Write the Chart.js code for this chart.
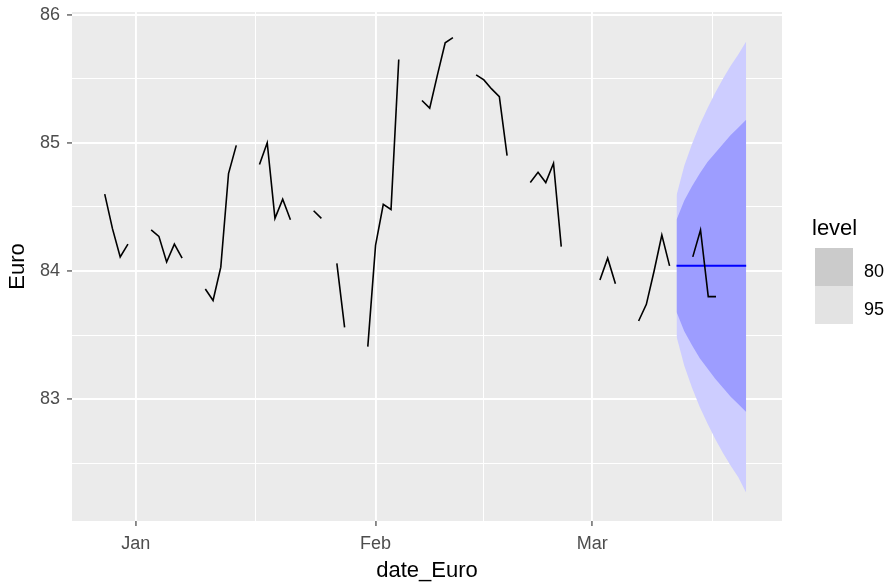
<!DOCTYPE html>
<html>
<head>
<meta charset="utf-8">
<script src="https://cdn.jsdelivr.net/npm/chart.js@4"></script>
<style>
  html, body { margin: 0; padding: 0; background: #ffffff; }
  #wrap { width: 890px; height: 587px; }
</style>
</head>
<body>
<div id="wrap"><canvas id="euro-chart" width="890" height="587"></canvas></div>
<script>
// observed rates (weekdays, some missing)
const euroDates = [
  '2021-12-28', '2021-12-29', '2021-12-30', '2021-12-31',
  '2022-01-03', '2022-01-04', '2022-01-05', '2022-01-06', '2022-01-07',
  '2022-01-10', '2022-01-11', '2022-01-12', '2022-01-13', '2022-01-14',
  '2022-01-17', '2022-01-18', '2022-01-19', '2022-01-20', '2022-01-21',
  '2022-01-24', '2022-01-25', '2022-01-27', '2022-01-28',
  '2022-01-31', '2022-02-01', '2022-02-02', '2022-02-03', '2022-02-04',
  '2022-02-07', '2022-02-08', '2022-02-09', '2022-02-10', '2022-02-11',
  '2022-02-14', '2022-02-15', '2022-02-16', '2022-02-17', '2022-02-18',
  '2022-02-21', '2022-02-22', '2022-02-23', '2022-02-24', '2022-02-25',
  '2022-03-02', '2022-03-03', '2022-03-04',
  '2022-03-07', '2022-03-08', '2022-03-09', '2022-03-10', '2022-03-11',
  '2022-03-14', '2022-03-15', '2022-03-16', '2022-03-17'
];
const euroValues = [
  84.60, 84.33, 84.11, 84.21,
  84.32, 84.27, 84.07, 84.21, 84.10,
  83.86, 83.77, 84.03, 84.76, 84.98,
  84.83, 85.00, 84.41, 84.56, 84.40,
  84.47, 84.41, 84.06, 83.56,
  83.41, 84.20, 84.52, 84.48, 85.65,
  85.33, 85.27, 85.53, 85.78, 85.82,
  85.53, 85.49, 85.42, 85.36, 84.90,
  84.69, 84.77, 84.69, 84.84, 84.19,
  83.93, 84.10, 83.90,
  83.61, 83.74, 84.00, 84.28, 84.04,
  84.11, 84.32, 83.80, 83.80
];

// forecast
const fcDates = [
  '2022-03-12', '2022-03-13', '2022-03-14', '2022-03-15', '2022-03-16',
  '2022-03-17', '2022-03-18', '2022-03-19', '2022-03-20', '2022-03-21'
];
const fcMean = [84.04, 84.04, 84.04, 84.04, 84.04, 84.04, 84.04, 84.04, 84.04, 84.04];
const hi80 = [84.40, 84.55, 84.66, 84.76, 84.85, 84.92, 84.99, 85.06, 85.12, 85.18];
const lo80 = [83.68, 83.53, 83.42, 83.32, 83.24, 83.16, 83.09, 83.02, 82.96, 82.90];
const hi95 = [84.59, 84.82, 84.99, 85.14, 85.27, 85.39, 85.50, 85.60, 85.69, 85.79];
const lo95 = [83.49, 83.26, 83.09, 82.94, 82.81, 82.69, 82.58, 82.48, 82.39, 82.27];

// axes
const monthDates = ['2022-01-01', '2022-02-01', '2022-03-01', '2022-04-01'];
const monthLabels = ['Jan', 'Feb', 'Mar', 'Apr'];
const yMajor = [83, 84, 85, 86];
const yMinor = [82.5, 83.5, 84.5, 85.5];
const levelNames = ['80', '95'];

const FONT = '"Liberation Sans", Arial, sans-serif';
const origin = Date.UTC(2022, 0, 1);
function dayNum(s) {
  return (Date.parse(s + 'T00:00:00Z') - origin) / 86400000;
}

// break the line where days are missing
const euroPoints = [];
euroDates.forEach((d, i) => {
  const x = dayNum(d);
  if (i > 0 && x - dayNum(euroDates[i - 1]) > 1) {
    euroPoints.push({x: x - 0.5, y: null});
  }
  euroPoints.push({x: x, y: euroValues[i]});
});
const fcPts = arr => fcDates.map((d, i) => ({x: dayNum(d) - 0.1, y: arr[i]}));

// panel limits in days from 1 Jan
const xMin = -8.23;
const xMax = 83.53;

const xMajor = monthDates.map(dayNum);
const xMinor = xMajor.slice(1).map((v, i) => (v + xMajor[i]) / 2);
const xTicks = xMajor.concat(xMinor).filter(v => v > xMin && v < xMax).sort((a, b) => a - b);
const yTicks = yMajor.concat(yMinor).sort((a, b) => a - b);

const isMajorX = v => xMajor.includes(v);
const isMajorY = v => yMajor.includes(v);

const panelBg = {
  id: 'panelBg',
  beforeDraw(chart) {
    const {ctx, chartArea: a} = chart;
    ctx.save();
    ctx.fillStyle = '#ffffff';
    ctx.fillRect(0, 0, chart.width, chart.height);
    ctx.fillStyle = '#EBEBEB';
    ctx.fillRect(a.left, a.top, a.right - a.left, a.bottom - a.top);
    ctx.restore();
  }
};

const levelLegend = {
  id: 'levelLegend',
  afterDraw(chart) {
    const c = chart.ctx;
    const keyColours = ['#CBCBCB', '#E3E3E3'];
    c.save();
    c.fillStyle = '#000000';
    c.textBaseline = 'alphabetic';
    c.font = '22px ' + FONT;
    c.fillText('level', 812, 235);
    levelNames.forEach((name, i) => {
      c.fillStyle = keyColours[i];
      c.fillRect(815, 248 + i * 38, 38, 38);
      c.fillStyle = '#000000';
      c.font = '18px ' + FONT;
      c.fillText(name, 864, 277 + i * 38);
    });
    c.restore();
  }
};

const noPad = s => { s.paddingTop = 0; s.paddingBottom = 0; s.paddingLeft = 0; s.paddingRight = 0; };

const euroChart = new Chart(document.getElementById('euro-chart'), {
  type: 'line',
  data: {
    datasets: [
      {data: fcPts(hi95), borderWidth: 0, pointRadius: 0, fill: false, order: 6},
      {data: fcPts(lo95), borderWidth: 0, pointRadius: 0, fill: '-1', backgroundColor: '#CDCDFF', order: 5},
      {data: fcPts(hi80), borderWidth: 0, pointRadius: 0, fill: false, order: 4},
      {data: fcPts(lo80), borderWidth: 0, pointRadius: 0, fill: '-1', backgroundColor: '#9D9DFF', order: 3},
      {data: fcPts(fcMean), borderColor: '#0000FF', borderWidth: 2, pointRadius: 0, fill: false, order: 2},
      {data: euroPoints, borderColor: '#000000', borderWidth: 1.6, pointRadius: 0, fill: false, spanGaps: false, order: 1}
    ]
  },
  options: {
    responsive: false,
    animation: false,
    events: [],
    layout: {padding: {left: 0, right: 108, top: 12, bottom: 0}},
    elements: {line: {tension: 0}, point: {radius: 0}},
    plugins: {legend: {display: false}, tooltip: {enabled: false}},
    scales: {
      x: {
        type: 'linear',
        min: xMin,
        max: xMax,
        afterBuildTicks: s => { s.ticks = xTicks.map(v => ({value: v})); },
        afterFit: s => { s.height = 66; noPad(s); },
        border: {display: false},
        grid: {
          color: '#FFFFFF',
          lineWidth: ctx => isMajorX(ctx.tick.value) ? 1.9 : 1,
          tickColor: ctx => isMajorX(ctx.tick.value) ? '#333333' : 'rgba(0,0,0,0)',
          tickLength: 5,
          tickWidth: 1.1
        },
        ticks: {
          autoSkip: false,
          maxRotation: 0,
          padding: 7,
          color: '#4D4D4D',
          font: {family: FONT, size: 18},
          callback: v => {
            const i = xMajor.indexOf(v);
            return i >= 0 ? monthLabels[i] : '';
          }
        },
        title: {
          display: true,
          text: 'date_Euro',
          color: '#000000',
          font: {family: FONT, size: 22},
          padding: {top: 0, bottom: 3}
        }
      },
      y: {
        min: 82.05,
        max: 86.02,
        afterBuildTicks: s => { s.ticks = yTicks.map(v => ({value: v})); },
        afterFit: s => { s.width = 72; noPad(s); },
        border: {display: false},
        grid: {
          color: '#FFFFFF',
          lineWidth: ctx => isMajorY(ctx.tick.value) ? 1.9 : 1,
          tickColor: ctx => isMajorY(ctx.tick.value) ? '#333333' : 'rgba(0,0,0,0)',
          tickLength: 5,
          tickWidth: 1.1
        },
        ticks: {
          padding: 7,
          color: '#4D4D4D',
          font: {family: FONT, size: 18},
          callback: v => isMajorY(v) ? String(v) : ''
        },
        title: {
          display: true,
          text: 'Euro',
          color: '#000000',
          font: {family: FONT, size: 22},
          padding: {top: 5, bottom: 0}
        }
      }
    }
  },
  plugins: [panelBg, levelLegend]
});
</script>
</body>
</html>
